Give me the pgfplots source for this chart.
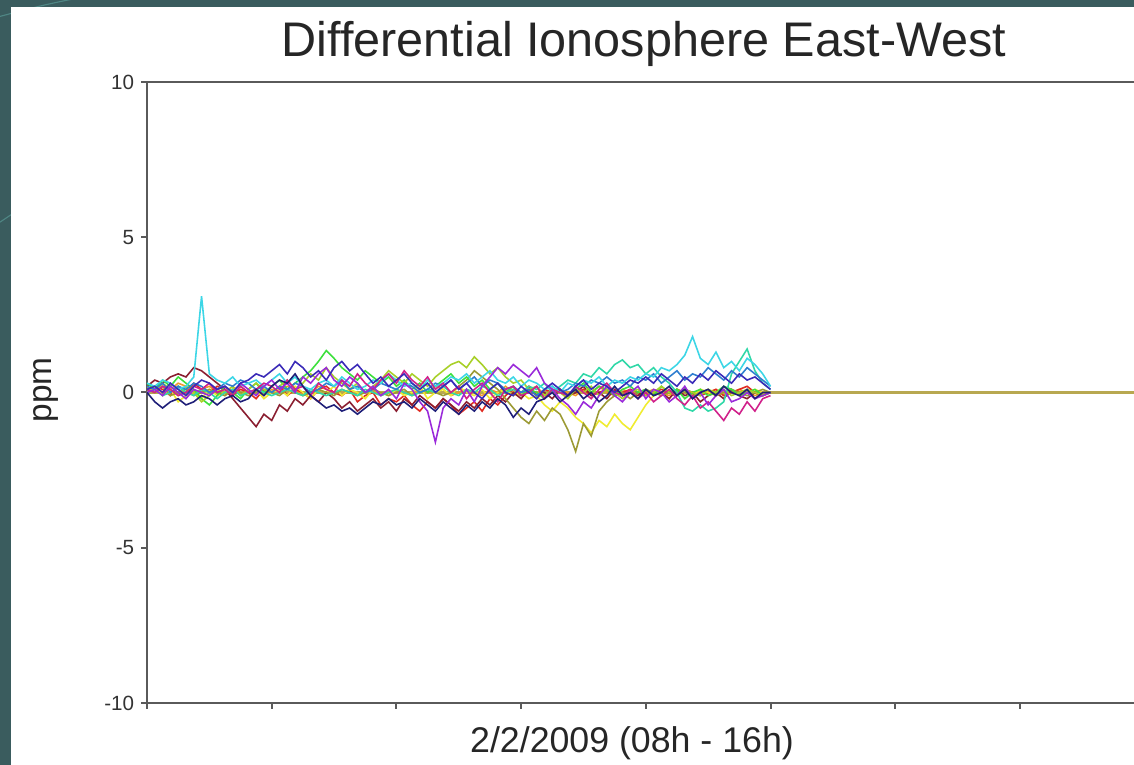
\documentclass[border=0pt]{standalone}
\usepackage{pgfplots}
\pgfplotsset{compat=1.18}
\usepackage{fontspec}
\setmainfont{Liberation Sans}
\definecolor{bgteal}{HTML}{3A5C5E}
\definecolor{bgline}{HTML}{4F8684}
\definecolor{axgray}{HTML}{5A5A5A}
\definecolor{zeroline}{HTML}{B8A850}
\definecolor{cCyan}{HTML}{3CD6E6}
\definecolor{cNavy}{HTML}{1E1E78}
\definecolor{cViolet}{HTML}{3A2AB8}
\definecolor{cPurple}{HTML}{9A2ADA}
\definecolor{cMagenta}{HTML}{D0208A}
\definecolor{cMaroon}{HTML}{8A1E30}
\definecolor{cRed}{HTML}{E02A20}
\definecolor{cGreen}{HTML}{3CE03C}
\definecolor{cLime}{HTML}{A8D028}
\definecolor{cYellow}{HTML}{F0EC30}
\definecolor{cOlive}{HTML}{9C9A34}
\definecolor{cMint}{HTML}{30D8A8}
\definecolor{cBlue}{HTML}{2E7ED0}
\definecolor{cOrange}{HTML}{F09A2A}
\begin{document}
\begin{tikzpicture}
\useasboundingbox (0,0) rectangle (396.9pt,267.75pt);
\clip (0,0) rectangle (396.9pt,267.75pt);
\fill[bgteal] (0,0) rectangle (396.9pt,267.75pt);
\draw[bgline,line width=0.4pt] (0pt,262pt) .. controls (15pt,266pt) .. (35pt,270pt);
\draw[bgline,line width=0.4pt] (0pt,190pt) -- (6pt,194pt);
\fill[white] (3.9pt,0) rectangle (396.9pt,265.3pt);
\begin{axis}[
  at={(51.45pt,21.7pt)}, anchor=south west, scale only axis,
  width=436.45pt, height=217.35pt,
  xmin=0, xmax=10, ymin=-10, ymax=10,
  xtick={0,...,10}, xticklabels={},
  ytick={-10,-5,0,5,10},
  xtick pos=bottom, ytick pos=left,
  tick align=outside, major tick length=2pt,
  axis line style={axgray,line width=0.8pt},
  tick style={axgray,line width=0.7pt},
  /pgf/number format/assume math mode=true,
  yticklabel style={font=\fontsize{7.2}{8}\selectfont,text=black!80,xshift=1pt},
  every axis plot/.append style={line width=0.55pt},
]
\addplot[zeroline,line width=0.8pt] coordinates {(0,0)(10,0)};
% orange
\addplot[cOrange] table[header=false,row sep=\\,x expr=\coordindex/16,y index=0]{
0.1\\0.2\\0.0\\0.1\\0.3\\0.2\\0.0\\0.1\\0.2\\0.0\\-0.1\\0.1\\0.2\\0.0\\0.1\\-0.1\\
0.1\\0.0\\0.2\\0.1\\-0.1\\0.0\\0.2\\0.1\\0.0\\-0.1\\0.1\\0.2\\0.0\\0.1\\-0.1\\0.0\\
0.1\\0.0\\-0.1\\0.1\\0.0\\0.2\\0.1\\-0.1\\0.0\\0.1\\0.0\\-0.1\\0.1\\0.0\\0.2\\0.0\\
-0.1\\0.1\\0.0\\-0.1\\0.0\\0.1\\0.0\\-0.1\\0.1\\0.0\\0.2\\0.0\\-0.1\\0.1\\0.0\\-0.1\\
0.0\\0.1\\0.0\\-0.1\\0.1\\0.0\\-0.1\\0.1\\0.0\\0.1\\-0.1\\0.0\\0.1\\0.0\\-0.1\\0.0\\
0.0\\};
% red
\addplot[cRed] table[header=false,row sep=\\,x expr=\coordindex/16,y index=0]{
0.0\\0.2\\0.1\\-0.1\\0.2\\0.0\\0.3\\0.1\\0.0\\0.2\\0.1\\-0.1\\0.1\\0.0\\-0.2\\0.1\\
0.0\\0.2\\-0.1\\0.1\\0.0\\-0.2\\0.1\\0.2\\0.0\\-0.1\\0.1\\-0.3\\-0.1\\0.0\\-0.4\\-0.2\\
-0.3\\-0.1\\-0.4\\-0.6\\-0.3\\-0.5\\-0.2\\-0.4\\-0.7\\-0.5\\-0.3\\-0.6\\-0.2\\-0.4\\-0.1\\0.1\\
0.0\\0.2\\-0.1\\0.1\\0.0\\0.1\\-0.1\\0.0\\0.1\\-0.1\\0.0\\0.1\\-0.1\\0.0\\0.1\\0.0\\
-0.1\\0.0\\0.1\\0.0\\-0.1\\0.1\\0.0\\-0.1\\0.0\\0.1\\-0.1\\0.0\\0.1\\0.2\\0.0\\-0.1\\
0.0\\};
% yellow
\addplot[cYellow] table[header=false,row sep=\\,x expr=\coordindex/16,y index=0]{
0.0\\0.2\\-0.1\\0.1\\-0.3\\-0.1\\0.0\\-0.2\\0.1\\-0.1\\0.0\\0.2\\-0.1\\0.0\\0.1\\-0.2\\
0.0\\0.1\\-0.1\\0.2\\0.0\\-0.2\\0.1\\0.0\\0.2\\-0.1\\0.1\\0.0\\-0.2\\0.1\\0.0\\-0.1\\
0.1\\-0.1\\0.0\\0.2\\-0.2\\0.0\\0.1\\-0.1\\0.2\\0.0\\-0.1\\0.1\\-0.2\\0.0\\0.1\\-0.1\\
0.0\\-0.2\\-0.1\\-0.4\\-0.6\\-0.3\\-0.5\\-0.8\\-1.0\\-1.3\\-0.9\\-1.1\\-0.7\\-1.0\\-1.2\\-0.8\\
-0.4\\-0.1\\0.0\\-0.2\\0.1\\0.0\\-0.1\\0.1\\0.0\\-0.1\\0.0\\0.1\\-0.1\\0.0\\0.1\\0.0\\
0.0\\};
% maroon
\addplot[cMaroon] table[header=false,row sep=\\,x expr=\coordindex/16,y index=0]{
0.2\\0.4\\0.3\\0.5\\0.6\\0.5\\0.8\\0.7\\0.5\\0.3\\0.1\\-0.2\\-0.5\\-0.8\\-1.1\\-0.7\\
-0.9\\-0.4\\-0.6\\-0.2\\-0.4\\-0.1\\-0.3\\0.0\\-0.2\\-0.5\\-0.3\\-0.6\\-0.4\\-0.2\\-0.5\\-0.3\\
-0.6\\-0.2\\-0.4\\-0.1\\-0.3\\-0.5\\-0.2\\-0.4\\-0.6\\-0.3\\-0.5\\-0.2\\-0.4\\-0.1\\-0.3\\0.0\\
-0.2\\0.1\\-0.1\\0.0\\-0.2\\0.1\\-0.1\\0.0\\0.2\\-0.1\\0.0\\-0.2\\0.1\\-0.1\\0.0\\-0.1\\
0.1\\-0.1\\0.0\\-0.2\\0.1\\-0.1\\0.0\\-0.3\\-0.1\\0.0\\-0.2\\0.1\\-0.1\\-0.2\\0.0\\-0.1\\
0.0\\};
% olive
\addplot[cOlive] table[header=false,row sep=\\,x expr=\coordindex/16,y index=0]{
0.1\\0.0\\0.2\\-0.1\\0.0\\0.1\\-0.1\\0.0\\0.1\\0.0\\-0.1\\0.1\\0.0\\-0.1\\0.0\\0.1\\
0.0\\-0.1\\0.1\\0.0\\-0.1\\0.0\\0.1\\0.0\\-0.1\\0.1\\0.0\\-0.1\\0.0\\0.1\\0.0\\-0.1\\
0.0\\0.1\\-0.1\\0.0\\0.1\\0.0\\-0.1\\0.0\\0.2\\0.4\\0.7\\0.5\\0.3\\0.1\\-0.2\\-0.5\\
-0.8\\-1.0\\-0.6\\-0.9\\-0.5\\-0.7\\-1.2\\-1.9\\-1.0\\-1.4\\-0.6\\-0.3\\-0.1\\0.0\\-0.2\\0.0\\
0.1\\0.0\\-0.1\\0.0\\0.1\\0.0\\-0.1\\0.0\\0.1\\-0.1\\0.0\\0.1\\0.0\\-0.1\\0.0\\0.1\\
0.0\\};
% green
\addplot[cGreen] table[header=false,row sep=\\,x expr=\coordindex/16,y index=0]{
0.3\\0.1\\0.4\\0.2\\0.5\\0.3\\0.1\\-0.2\\-0.4\\-0.1\\0.2\\0.0\\-0.2\\0.1\\0.3\\0.0\\
0.2\\0.4\\0.1\\0.3\\0.5\\0.7\\1.0\\1.35\\1.1\\0.8\\0.6\\0.4\\0.7\\0.5\\0.3\\0.5\\
0.2\\0.4\\0.1\\0.3\\0.0\\0.2\\0.4\\0.6\\0.3\\0.5\\0.2\\0.4\\0.1\\0.3\\0.0\\0.2\\
-0.1\\0.1\\0.0\\-0.2\\0.1\\0.0\\-0.1\\0.1\\0.3\\0.0\\0.2\\0.1\\-0.1\\0.1\\0.2\\0.0\\
0.1\\-0.1\\0.2\\0.0\\0.1\\-0.2\\0.0\\0.1\\-0.1\\0.0\\0.2\\0.1\\-0.1\\0.0\\0.1\\-0.1\\
0.0\\};
% lime
\addplot[cLime] table[header=false,row sep=\\,x expr=\coordindex/16,y index=0]{
0.2\\0.0\\0.3\\0.1\\-0.1\\0.2\\0.0\\-0.3\\-0.1\\0.1\\0.0\\0.2\\-0.1\\0.1\\0.3\\0.1\\
0.0\\0.2\\0.4\\0.1\\0.3\\0.6\\0.4\\0.8\\0.5\\0.3\\0.1\\0.3\\0.0\\0.2\\0.4\\0.7\\
0.5\\0.3\\0.6\\0.4\\0.2\\0.5\\0.7\\0.9\\1.0\\0.8\\1.15\\0.9\\0.6\\0.8\\0.5\\0.3\\
0.4\\0.1\\0.2\\-0.1\\0.1\\0.0\\-0.2\\0.1\\0.0\\0.2\\-0.1\\0.1\\0.0\\-0.2\\0.0\\0.1\\
-0.1\\0.0\\0.2\\0.0\\-0.1\\0.1\\0.0\\-0.1\\0.1\\0.0\\0.1\\-0.1\\0.0\\0.1\\0.0\\-0.1\\
0.0\\};
% mint
\addplot[cMint] table[header=false,row sep=\\,x expr=\coordindex/16,y index=0]{
0.0\\0.1\\-0.1\\0.0\\0.2\\0.0\\-0.1\\0.1\\0.0\\-0.2\\0.0\\0.1\\-0.1\\0.0\\0.1\\0.0\\
-0.1\\0.0\\0.1\\0.0\\-0.1\\0.1\\0.0\\-0.1\\0.0\\0.1\\0.0\\-0.1\\0.1\\0.0\\-0.1\\0.0\\
0.1\\0.0\\-0.1\\0.0\\0.1\\0.0\\0.2\\0.0\\-0.1\\0.1\\0.0\\0.2\\0.1\\-0.1\\0.0\\0.1\\
0.0\\0.2\\0.1\\0.3\\0.0\\0.2\\0.4\\0.3\\0.6\\0.5\\0.8\\0.6\\0.9\\1.05\\0.8\\0.9\\
0.6\\0.8\\0.5\\0.3\\0.0\\-0.5\\-0.6\\-0.4\\-0.6\\-0.5\\-0.3\\0.6\\1.0\\1.4\\0.7\\0.3\\
0.1\\};
% blue
\addplot[cBlue] table[header=false,row sep=\\,x expr=\coordindex/16,y index=0]{
0.2\\0.1\\0.3\\0.0\\0.2\\0.1\\0.3\\0.2\\0.0\\0.1\\0.3\\0.2\\0.4\\0.3\\0.1\\0.2\\
0.0\\0.2\\0.1\\0.3\\0.2\\0.0\\0.1\\0.3\\0.2\\0.4\\0.1\\0.2\\0.0\\0.1\\0.3\\0.2\\
0.1\\0.3\\0.2\\0.0\\0.1\\0.3\\0.2\\0.4\\0.1\\0.3\\0.5\\0.2\\0.4\\0.3\\0.1\\0.2\\
0.0\\0.1\\-0.1\\0.1\\0.2\\0.0\\0.1\\0.3\\0.2\\0.4\\0.3\\0.5\\0.3\\0.4\\0.2\\0.5\\
0.4\\0.6\\0.3\\0.5\\0.7\\0.4\\0.6\\0.5\\0.8\\0.6\\0.4\\0.7\\0.5\\0.8\\0.6\\0.4\\
0.2\\};
% cyan
\addplot[cCyan] table[header=false,row sep=\\,x expr=\coordindex/16,y index=0]{
0.3\\0.2\\0.4\\0.3\\0.1\\0.2\\0.5\\3.1\\0.6\\0.4\\0.3\\0.5\\0.2\\0.3\\0.4\\0.2\\
0.4\\0.6\\0.3\\0.5\\0.2\\0.1\\0.3\\0.4\\0.2\\0.5\\0.3\\0.1\\0.2\\0.4\\0.3\\0.6\\
0.4\\0.2\\0.3\\0.1\\0.4\\0.2\\0.3\\0.5\\0.4\\0.6\\0.3\\0.5\\0.7\\0.4\\0.3\\0.5\\
0.2\\0.4\\0.3\\0.1\\0.2\\0.0\\0.3\\0.2\\0.4\\0.3\\0.5\\0.2\\0.4\\0.3\\0.5\\0.4\\
0.6\\0.5\\0.8\\0.7\\0.9\\1.2\\1.8\\1.1\\0.9\\1.3\\0.8\\1.0\\0.7\\1.1\\0.9\\0.6\\
0.2\\};
% magenta
\addplot[cMagenta] table[header=false,row sep=\\,x expr=\coordindex/16,y index=0]{
0.1\\0.0\\0.2\\0.1\\-0.1\\0.0\\0.2\\0.1\\0.3\\0.0\\0.1\\-0.1\\0.2\\0.0\\0.1\\0.3\\
0.2\\0.0\\0.4\\0.1\\0.2\\-0.1\\0.3\\0.1\\0.0\\0.4\\0.2\\0.6\\0.3\\0.1\\0.4\\0.6\\
0.3\\0.7\\0.4\\0.2\\0.5\\0.1\\0.3\\0.0\\0.2\\-0.2\\0.1\\0.3\\0.0\\-0.3\\0.1\\0.2\\
-0.1\\0.0\\0.2\\-0.2\\0.1\\0.0\\-0.1\\0.2\\0.0\\-0.2\\0.1\\0.3\\0.0\\-0.1\\0.1\\-0.2\\
0.0\\-0.3\\-0.1\\0.1\\-0.2\\-0.4\\-0.1\\-0.5\\-0.3\\-0.6\\-0.9\\-0.5\\-0.7\\-0.3\\-0.6\\-0.2\\
-0.1\\};
% purple
\addplot[cPurple] table[header=false,row sep=\\,x expr=\coordindex/16,y index=0]{
0.0\\0.1\\-0.1\\0.2\\0.0\\-0.2\\0.1\\0.0\\-0.1\\0.1\\0.2\\0.0\\0.3\\0.1\\-0.1\\0.2\\
0.4\\0.1\\0.3\\0.0\\0.5\\0.3\\0.6\\0.8\\0.4\\0.2\\0.5\\0.3\\0.0\\0.2\\-0.1\\0.1\\
-0.2\\0.3\\0.1\\-0.3\\-0.6\\-1.6\\-0.5\\-0.2\\-0.4\\0.1\\-0.3\\0.2\\0.5\\0.8\\0.6\\0.9\\
0.7\\0.5\\0.8\\0.3\\0.1\\-0.2\\-0.4\\-0.7\\-0.3\\-0.5\\-0.1\\0.2\\-0.1\\-0.3\\0.0\\0.2\\
-0.2\\0.1\\0.0\\-0.3\\-0.1\\0.2\\-0.2\\0.0\\-0.4\\-0.1\\0.1\\-0.3\\-0.2\\0.0\\-0.2\\-0.1\\
0.0\\};
% violet
\addplot[cViolet] table[header=false,row sep=\\,x expr=\coordindex/16,y index=0]{
0.1\\0.2\\0.0\\0.3\\0.1\\-0.1\\0.2\\0.4\\0.3\\0.1\\0.2\\0.0\\0.3\\0.4\\0.6\\0.5\\
0.7\\0.9\\0.6\\1.0\\0.8\\0.5\\0.7\\0.4\\0.8\\1.0\\0.7\\0.9\\0.6\\0.3\\0.5\\0.2\\
0.4\\0.6\\0.3\\0.1\\0.3\\0.0\\0.2\\0.4\\0.1\\0.3\\0.0\\-0.2\\0.1\\0.3\\0.0\\-0.1\\
0.2\\0.0\\-0.2\\0.1\\0.3\\0.1\\-0.1\\0.2\\0.4\\0.1\\0.3\\0.2\\0.0\\0.2\\0.4\\0.3\\
0.5\\0.3\\0.6\\0.4\\0.2\\0.5\\0.3\\0.6\\0.4\\0.7\\0.5\\0.3\\0.6\\0.4\\0.5\\0.3\\
0.1\\};
% navy
\addplot[cNavy] table[header=false,row sep=\\,x expr=\coordindex/16,y index=0]{
0.0\\-0.3\\-0.5\\-0.3\\-0.2\\-0.4\\-0.3\\-0.1\\-0.2\\-0.4\\-0.2\\-0.1\\-0.3\\-0.2\\0.1\\-0.1\\
0.2\\0.4\\0.3\\0.6\\0.2\\-0.1\\-0.3\\-0.5\\-0.4\\-0.6\\-0.5\\-0.7\\-0.5\\-0.3\\-0.4\\-0.2\\
-0.4\\-0.3\\-0.5\\-0.2\\-0.4\\-0.6\\-0.3\\-0.5\\-0.7\\-0.4\\-0.6\\-0.3\\-0.5\\-0.2\\-0.4\\-0.8\\
-0.5\\-0.7\\-0.3\\-0.2\\0.0\\-0.3\\-0.1\\0.1\\-0.2\\0.0\\-0.3\\-0.1\\0.2\\-0.1\\0.0\\-0.2\\
0.1\\-0.1\\0.0\\0.2\\-0.1\\0.1\\-0.2\\0.0\\0.1\\-0.1\\0.2\\0.0\\-0.1\\0.1\\-0.2\\0.0\\
0.0\\};
\addplot[zeroline,line width=0.8pt] coordinates {(5,0)(10,0)};
\end{axis}
\node[anchor=base,font=\fontsize{17}{20}\selectfont,text=black!85] at (225.4pt,247.8pt) {Differential Ionosphere East-West};
\node[anchor=base,font=\fontsize{12.5}{15}\selectfont,text=black!85] at (221.2pt,4.2pt) {2/2/2009 (08h - 16h)};
\node[rotate=90,font=\fontsize{11.7}{14}\selectfont,text=black!85] at (16.1pt,131.25pt) {ppm};
\end{tikzpicture}
\end{document}
